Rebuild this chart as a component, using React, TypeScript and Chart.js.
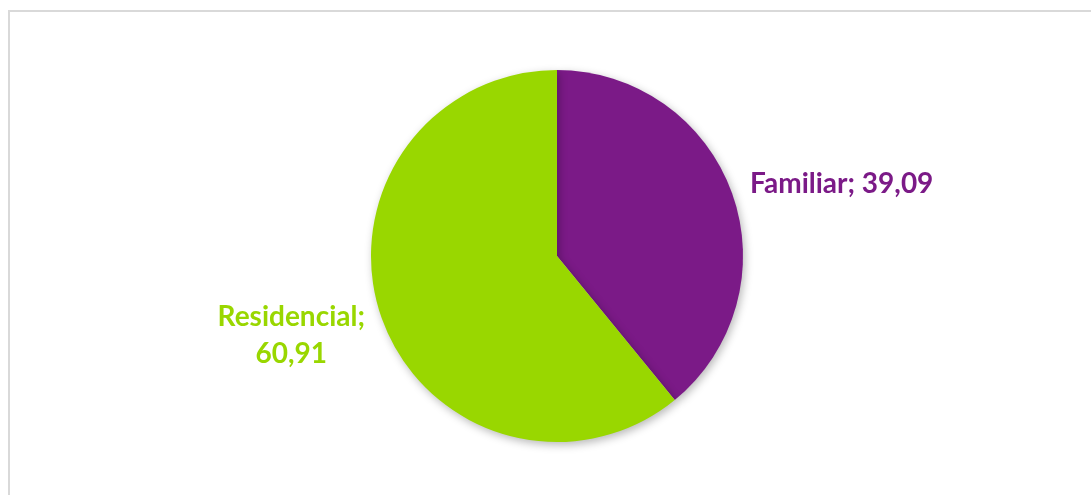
import React, { useEffect, useRef } from "react";
import { Chart, registerables } from "chart.js";

Chart.register(...registerables);

const categories = ["Familiar", "Residencial"];
const values = [39.09, 60.91];
const valueLabels = ["39,09", "60,91"];
const colors = ["#7B1A87", "#99D700"];

const labelPlugin = {
  id: "outerLabels",
  beforeDatasetsDraw(chart: any) {
    const ctx = chart.ctx;
    ctx.save();
    ctx.shadowColor = "rgba(0,0,0,0.28)";
    ctx.shadowBlur = 9;
    ctx.shadowOffsetX = 2;
    ctx.shadowOffsetY = 3;
  },
  afterDatasetsDraw(chart: any) {
    const ctx = chart.ctx;
    ctx.restore();
    const meta = chart.getDatasetMeta(0);
    ctx.save();
    ctx.font = "bold 28px Lato, 'Open Sans', sans-serif";
    ctx.textBaseline = "middle";
    meta.data.forEach((arc: any, i: number) => {
      const { x, y, startAngle, endAngle, outerRadius } = arc.getProps(
        ["x", "y", "startAngle", "endAngle", "outerRadius"],
        true
      );
      const mid = (startAngle + endAngle) / 2;
      const r = outerRadius + 20;
      const ax = x + Math.cos(mid) * r;
      const ay = y + Math.sin(mid) * r;
      ctx.fillStyle = colors[i];
      if (Math.cos(mid) >= 0) {
        ctx.textAlign = "left";
        ctx.fillText(categories[i] + "; " + valueLabels[i], ax - 1, ay - 3);
      } else {
        const lines = [categories[i] + ";", valueLabels[i]];
        const w = Math.max(...lines.map((l) => ctx.measureText(l).width));
        const cx = ax + 2 - w / 2;
        ctx.textAlign = "center";
        lines.forEach((l, j) => ctx.fillText(l, cx, ay - 8 + j * 37));
      }
    });
    ctx.restore();
  },
};

export default function App() {
  const ref = useRef<HTMLCanvasElement | null>(null);
  useEffect(() => {
    if (!ref.current) return;
    const chart = new Chart(ref.current, {
      type: "pie",
      data: {
        labels: categories,
        datasets: [
          {
            data: values,
            backgroundColor: colors,
            borderWidth: 0,
          },
        ],
      },
      options: {
        responsive: false,
        animation: false,
        layout: { padding: { left: 371, right: 348, top: 70, bottom: 53 } },
        plugins: {
          legend: { display: false },
          tooltip: { enabled: false },
        },
      },
      plugins: [labelPlugin],
    });
    return () => chart.destroy();
  }, []);
  return (
    <div style={{ position: "fixed", left: 0, top: 0, width: 1091, height: 495, background: "#fff", overflow: "hidden" }}>
      <div
        style={{
          position: "absolute",
          left: 8,
          top: 10,
          width: 1120,
          height: 520,
          border: "2px solid #d9d9d9",
          boxSizing: "border-box",
        }}
      />
      <canvas ref={ref} width={1091} height={495} style={{ position: "absolute", left: 0, top: 0, width: 1091, height: 495 }} />
    </div>
  );
}
